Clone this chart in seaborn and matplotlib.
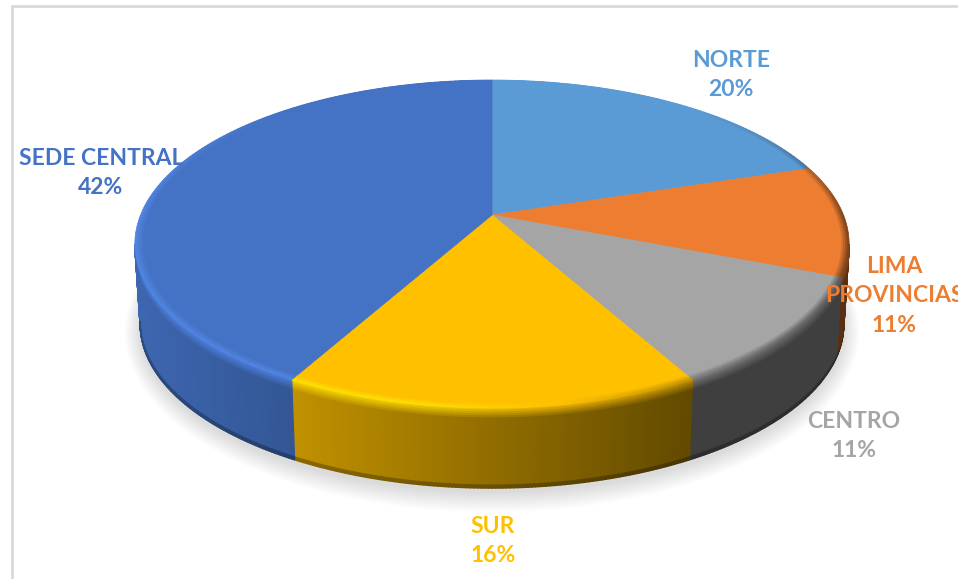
import matplotlib
matplotlib.use("Agg")
import matplotlib.pyplot as plt
from matplotlib.collections import PolyCollection
from matplotlib.colors import to_rgb
import numpy as np
import seaborn as sns

categories = ["NORTE", "LIMA\nPROVINCIAS", "CENTRO", "SUR", "SEDE CENTRAL"]
values = [20, 11, 11, 16, 42]
colors = ["#5B9BD5", "#ED7D31", "#A5A5A5", "#FFC000", "#4472C4"]
label_x = [731, 894, 854, 493, 101]
label_y = [75, 296, 436, 541, 173]

sns.set_theme(style="white")
plt.rcParams["font.family"] = ["Lato", "DejaVu Sans"]
palette = sns.color_palette(colors)

# perspective disk, fitted to the picture in pixels
CX, CY, A, B, K = 492, 215, 158.9, 351.5, 0.177
DEPTH = 80


def project(r, th):
    x, y = r * np.sin(th), r * np.cos(th)
    d = 1 + K * y
    return CX + B * x / d, CY - A * y / d


def shade(x):
    return np.interp(x, [135, 695, 848], [0.9, 0.38, 0.38])


def light(x):
    return np.interp(x, [135, 420, 560, 700, 848], [1.15, 1.15, 1.0, 0.75, 0.55])


fig = plt.figure(figsize=(9.58, 5.79), dpi=100)
ax = fig.add_axes([0, 0, 1, 1])
ax.set_xlim(0, 958)
ax.set_ylim(579, 0)
ax.axis("off")

# frame of the pasted chart
ax.plot([12, 12, 958], [579, 6, 6], color="#d9d9d9", lw=2, solid_joinstyle="miter")

# soft shadow under the pie
circle = np.linspace(0, 2 * np.pi, 361)
sx, sy = project(1, circle)
for i in range(12):
    g = 1 + 0.004 * i
    ax.fill(CX + (sx - CX) * g * 0.985, CY + DEPTH + 5 + (sy - CY) * (1 + 0.009 * i),
            color="black", alpha=0.011, lw=0)

edges = np.radians(np.cumsum([0] + values) * 3.6)
th_dense = np.linspace(0, 2 * np.pi, 1441)
xd = project(1, th_dense)[0]
th_right, th_left = th_dense[np.argmax(xd)], th_dense[np.argmin(xd)]

polys, fills = [], []
for base, t0, t1 in zip(palette, edges[:-1], edges[1:]):
    base = np.array(to_rgb(base))
    # side wall, drawn as thin columns
    a, b = max(t0, th_right), min(t1, th_left)
    if b > a:
        th = np.linspace(a, b, int(np.degrees(b - a) * 2) + 2)
        for p, q in zip(th[:-1], th[1:]):
            xp, yp = project(1, p)
            xq, yq = project(1, q)
            xm = (xp + xq) / 2
            wall = base * shade(xm)
            hl = np.clip(base * light(xm), 0, 1)
            stops = [0, 2, 4, 6, 8, 10, 12, DEPTH - 3, DEPTH]
            cols = [hl * (1 - v / 6) + wall * v / 6 for v in range(1, 7)] + [wall, wall * 0.72]
            for s0, s1, c in zip(stops[:-1], stops[1:], cols):
                f0, f1 = 0.015 * s0 / DEPTH, 0.015 * s1 / DEPTH
                polys.append([(xp - (xp - CX) * f0, yp + s0), (xq - (xq - CX) * f0, yq + s0),
                              (xq - (xq - CX) * f1, yq + s1), (xp - (xp - CX) * f1, yp + s1)])
                fills.append(c)
ax.add_collection(PolyCollection(polys, facecolors=fills, edgecolors=fills, linewidths=1.0))

polys, fills = [], []
for base, t0, t1 in zip(palette, edges[:-1], edges[1:]):
    base = np.array(to_rgb(base))
    # flat top of the slice
    th = np.linspace(t0, t1, 200)
    x, y = project(0.98, th)
    ax.fill(np.r_[CX, x], np.r_[CY, y], color=base, lw=0.5)
    # bevel along the outer edge
    th = np.linspace(t0, t1, max(int(np.degrees(t1 - t0)), 2) + 1)
    rings = np.linspace(0.98, 1, 5)
    for p, q in zip(th[:-1], th[1:]):
        m = (p + q) / 2
        deg = np.degrees(m)
        w = np.clip((min(deg, 360 - deg) - 40) / 50, 0, 1)
        xm = project(1, m)[0]
        hl = np.clip(base * light(xm), 0, 1)
        for j, (r0, r1) in enumerate(zip(rings[:-1], rings[1:])):
            v = w * (j + 1) / 4
            polys.append([project(r0, p), project(r0, q), project(r1, q), project(r1, p)])
            fills.append(base * (1 - v) + hl * v)
ax.add_collection(PolyCollection(polys, facecolors=fills, edgecolors=fills, linewidths=0.5))

for name, val, c, lx, ly in zip(categories, values, palette, label_x, label_y):
    ax.text(lx, ly, f"{name}\n{val}%", color=c, fontsize=16.5, fontweight="bold",
            ha="center", va="center", linespacing=1.5)

fig.savefig("out.png", dpi=100)
